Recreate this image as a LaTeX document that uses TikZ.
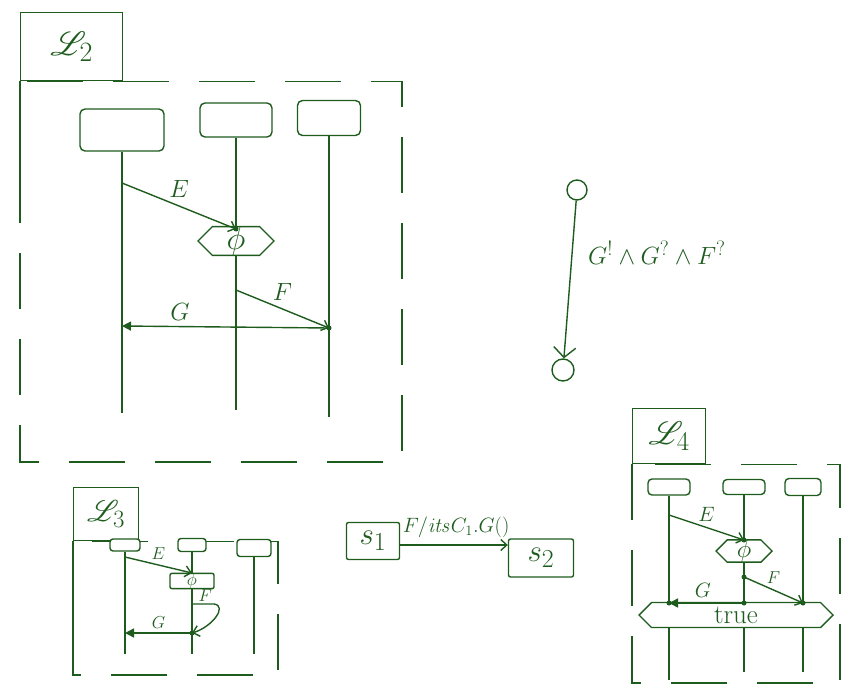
\documentclass[tikz,border=0pt]{standalone}
\usepackage{mathrsfs}
\usetikzlibrary{arrows.meta,positioning,shapes.symbols}
\definecolor{InkGreen}{HTML}{1E5C1E}

\begin{document}
\begin{tikzpicture}[x=1pt, y=-1pt, every node/.style={text=InkGreen}, ink/.style={draw=InkGreen, line width=1.4pt}, tag/.style={ink, anchor=north west, inner sep=0pt, font=\Huge}, frame/.style={ink, dash pattern=on 56pt off 30pt}, head/.style={ink, rounded corners=5pt, fill=white, inner sep=0pt}, cond/.style={ink, fill=white, shape=signal, signal to=west and east, inner sep=1pt}, msg/.style={ink, -{Straight Barb[length=6pt,width=11pt]}}, reply/.style={ink, -{Triangle[length=9pt,width=9pt]}}, lbl/.style={font=\Huge}, sublbl/.style={font=\LARGE}, st/.style={ink, circle, minimum size=20pt, inner sep=0pt}, sbox/.style={ink, rounded corners=2pt, inner sep=0pt, font=\Huge}]
\useasboundingbox (0,0) rectangle (843,687);

% chart L2
\node[tag, minimum width=102pt, minimum height=68pt] (tagA) at (20,12) {\scalebox{1.35}{$\mathscr{L}_2$}};
\draw[frame] (tagA.south west) rectangle (402,462);
\draw[ink] (tagA.south west) -- (tagA.south west |- 0,205);
\node[head, minimum width=84pt, minimum height=42pt] (a1) at (122,130) {};
\node[head, minimum width=72pt, minimum height=34pt] (a2) at (236,120) {};
\node[head, minimum width=63pt, minimum height=35pt] (a3) at (329,118) {};
\foreach \h/\e in {a1/413, a2/410, a3/417} \draw[ink] (\h.south) -- (\h |- 0,\e);
\coordinate (a1e) at (a1 |- 0,183); \coordinate (a2e) at (a2 |- 0,229);
\coordinate (a2f) at (a2 |- 0,290); \coordinate (a3f) at (a3 |- 0,328); \coordinate (a1g) at (a1 |- 0,326);
\node[cond, minimum width=76pt, minimum height=24pt, inner sep=0pt, font=\Huge] (c2) at (a2 |- 0,241) {\scalebox{1.3}{$\phi$}};
\draw[msg] (a1e) -- node[lbl, above=4pt] {$E$} (a2e);
\draw[msg] (a2f) -- node[lbl, above=4pt] {$F$} (a3f);
\draw[reply] (a3f) -- node[lbl, above=2pt, pos=0.72] {$G$} (a1g);
\foreach \p in {a2e, a3f} \fill[InkGreen] (\p) circle (2.5pt);

% state graph
\node[st] (q0) at (577,190) {};
\node[st, minimum size=22pt] (q1) at (563,370) {};
\draw[ink, -{Straight Barb[length=10pt,width=22pt]}] (q0) -- node[font=\Huge, right=12pt, pos=0.33] {$G^{!}\wedge G^{?}\wedge F^{?}$} (q1);

% chart L3
\node[tag, minimum width=65pt, minimum height=53pt] (tagB) at (73,487) {\scalebox{1.2}{$\mathscr{L}_3$}};
\draw[frame] (tagB.south west) rectangle (278,675);
\draw[ink] (tagB.south west) -- (tagB.south west |- 0,655);
\node[head, rounded corners=3pt, minimum width=30pt, minimum height=12pt] (b1) at (125,545) {};
\node[head, rounded corners=3pt, minimum width=28pt, minimum height=13pt] (b2) at (192,545) {};
\node[head, rounded corners=3pt, minimum width=34pt, minimum height=17pt] (b3) at (254,548) {};
\foreach \h in {b1, b2, b3} \draw[ink] (\h.south) -- (\h |- 0,654);
\coordinate (b1e) at (b1 |- 0,557); \coordinate (b2e) at (b2 |- 0,573);
\coordinate (b2f) at (b2 |- 0,604); \coordinate (b2g) at (b2 |- 0,633); \coordinate (b1g) at (b1 |- 0,633);
\node[ink, fill=white, rounded corners=2pt, minimum width=44pt, minimum height=15pt, inner sep=0pt, font=\LARGE] (c3) at (b2 |- 0,581) {$\phi$};
\draw[msg] (b1e) -- node[sublbl, above=1pt] {$E$} (b2e);
\draw[msg] (b2f) -- node[sublbl, above=-2pt, pos=0.6] {$F$} ++(22,0) .. controls +(14,2) and +(20,-6) .. (b2g);
\draw[reply] (b2g) -- node[sublbl, above=0pt] {$G$} (b1g);
\fill[InkGreen] (b2g) circle (2.5pt);

% transition
\node[sbox, minimum width=53pt, minimum height=37pt] (s1) at (373,541) {\scalebox{1.25}{$s_1$}};
\node[sbox, minimum width=65pt, minimum height=38pt] (s2) at (541,558) {\scalebox{1.25}{$s_2$}};
\draw[msg] ([yshift=-4pt]s1.east) -- node[font=\huge, above=3pt, pos=0.52] {$F/\mathit{its}C_1.G()$} ([yshift=-4pt]s1.east -| s2.west);

% chart L4
\node[tag, minimum width=73pt, minimum height=55pt] (tagC) at (632,408) {\scalebox{1.3}{$\mathscr{L}_4$}};
\draw[frame] (tagC.south west) rectangle (840,683);
\node[head, rounded corners=4pt, minimum width=42pt, minimum height=16pt] (d1) at (669,487) {};
\node[head, rounded corners=4pt, minimum width=42pt, minimum height=15pt] (d2) at (744,487) {};
\node[head, rounded corners=4pt, minimum width=36pt, minimum height=17pt] (d3) at (803,487) {};
\foreach \h/\e in {d1/680, d2/672, d3/672} \draw[ink] (\h.south) -- (\h |- 0,\e);
\coordinate (d1e) at (d1 |- 0,515); \coordinate (d2e) at (d2 |- 0,540);
\coordinate (d2f) at (d2 |- 0,577); \coordinate (d3f) at (d3 |- 0,603);
\coordinate (d2g) at (d2 |- 0,603); \coordinate (d1g) at (d1 |- 0,603);
\node[cond, minimum width=56pt, minimum height=21pt, inner sep=0pt, font=\huge] (c4) at (d2 |- 0,551) {\scalebox{1.2}{$\phi$}};
\node[cond, minimum width=194pt, minimum height=25pt, inner sep=0pt, font=\huge] (tr) at (736,615) {\scalebox{1.3}{true}};
\draw[msg] (d1e) -- node[font=\huge, above=2pt] {$E$} (d2e);
\draw[msg] (d2f) -- node[sublbl, above=2pt] {$F$} (d3f);
\draw[reply] (d2g) -- node[font=\huge, above=1pt, pos=0.55] {$G$} (d1g);
\foreach \p in {d2e, d2f, d3f, d2g, d1g} \fill[InkGreen] (\p) circle (2.5pt);
\end{tikzpicture}
\end{document}
